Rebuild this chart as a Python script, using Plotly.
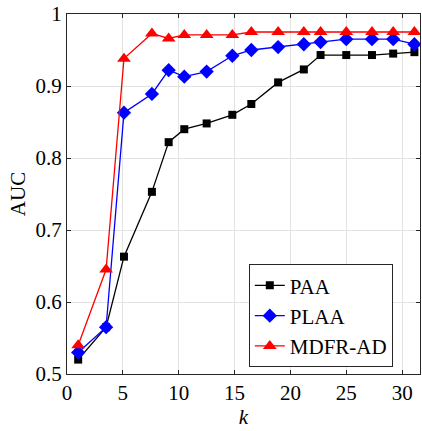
import plotly.graph_objects as go

k = [1, 3.5, 5.1, 7.6, 9.1, 10.5, 12.5, 14.8, 16.5, 18.9, 21.2, 22.7, 25, 27.3, 29.2, 31.1]
paa = [0.520, 0.565, 0.663, 0.753, 0.822, 0.840, 0.848, 0.860, 0.875, 0.905, 0.923, 0.943, 0.943, 0.943, 0.945, 0.947]
plaa = [0.530, 0.565, 0.863, 0.889, 0.922, 0.913, 0.920, 0.942, 0.950, 0.954, 0.958, 0.961, 0.965, 0.965, 0.965, 0.958]
mdfr = [0.540, 0.645, 0.938, 0.973, 0.966, 0.971, 0.971, 0.971, 0.975, 0.975, 0.975, 0.975, 0.975, 0.975, 0.975, 0.975]

names = ["PAA", "PLAA", "MDFR-AD"]
xticks = [0, 5, 10, 15, 20, 25, 30]
yticks = [0.5, 0.6, 0.7, 0.8, 0.9, 1.0]
yticklabels = ["0.5", "0.6", "0.7", "0.8", "0.9", "1"]

font = "Liberation Serif"
fs = 21

fig = go.Figure()
series = [
    (paa, names[0], "black", "square", 8),
    (plaa, names[1], "blue", "diamond", 11),
    (mdfr, names[2], "red", "triangle-up", 12),
]
for y, n, c, sym, sz in series:
    fig.add_trace(go.Scatter(
        x=k, y=y, name=n, mode="lines+markers",
        line=dict(color=c, width=1.3),
        marker=dict(symbol=sym, size=sz, color=c, line=dict(width=0)),
    ))

axis_common = dict(
    showline=True, linecolor="#262626", linewidth=1, mirror="ticks",
    ticks="inside", ticklen=4, tickcolor="#262626",
    showgrid=True, gridcolor="#e3e3e3", gridwidth=1,
    zeroline=False,
    tickfont=dict(family=font, size=fs, color="black"),
)

fig.update_layout(
    width=422, height=431,
    margin=dict(l=67, r=2, t=14, b=57),
    paper_bgcolor="white", plot_bgcolor="white",
    font=dict(family=font, size=fs, color="black"),
    showlegend=True,
    legend=dict(
        x=0.515, y=0.305, xanchor="left", yanchor="top",
        bordercolor="#262626", borderwidth=1, bgcolor="white",
        font=dict(family=font, size=fs, color="black"),
        tracegroupgap=0,
    ),
    xaxis=dict(range=[0, 31.6], tickvals=xticks,
               title=dict(text="<i>k</i>", font=dict(family=font, size=fs), standoff=5),
               **axis_common),
    yaxis=dict(range=[0.5, 1.0], tickvals=yticks, ticktext=yticklabels,
               title=dict(text="AUC", font=dict(family=font, size=fs), standoff=4),
               **axis_common),
)

fig.write_html("out.html")
